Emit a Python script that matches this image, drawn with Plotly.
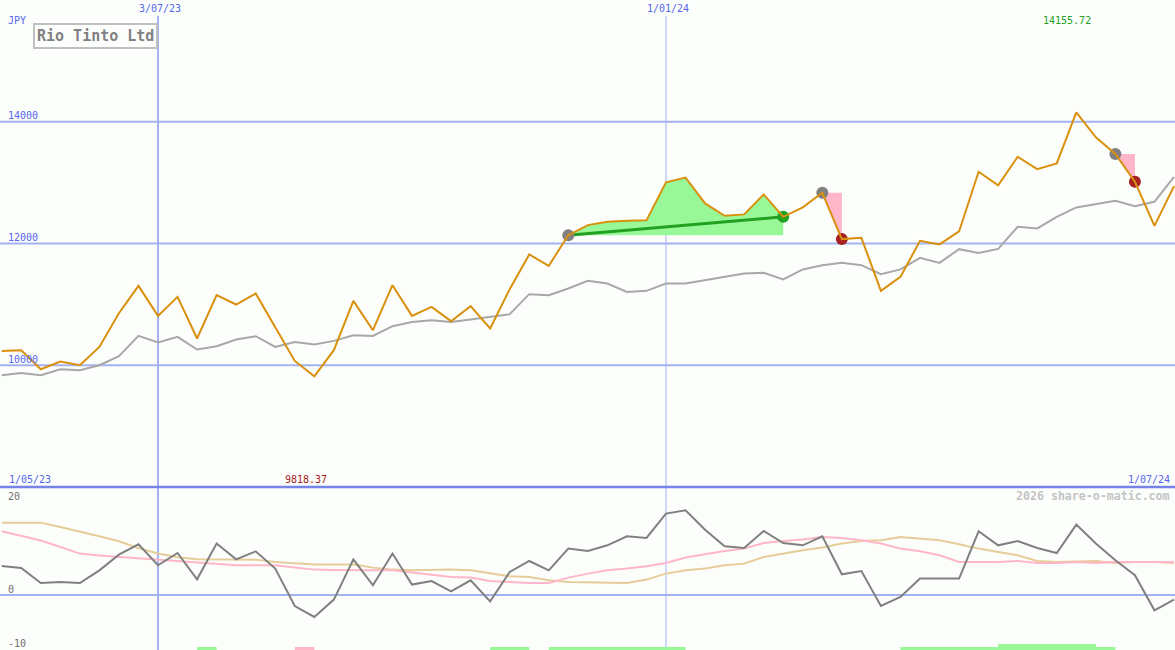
import plotly.graph_objects as go
import pandas as pd

# ---------------- data ----------------
dates = pd.date_range("2023-05-08", periods=61, freq="7D")

close = [10235, 10247, 9935, 10061, 10000, 10301, 10855, 11304, 10811, 11123,
         10439, 11151, 10998, 11179, 10625, 10071, 9818.37, 10247, 11057, 10576,
         11315, 10811, 10959, 10724, 10970, 10604, 11250, 11820, 11633, 12137,
         12302, 12356, 12373, 12380, 13004, 13083, 12659, 12455, 12478, 12807,
         12438, 12593, 12833, 12072, 12093, 11222, 11452, 12044, 11985, 12198,
         13178, 12954, 13425, 13222, 13316, 14155.72, 13744, 13470, 13014, 12290, 12943]

moving_avg = [9836, 9874, 9836, 9935, 9918, 10000, 10148, 10482, 10374, 10466,
              10258, 10313, 10423, 10477, 10301, 10383, 10341, 10400, 10494, 10482,
              10642, 10712, 10740, 10712, 10752, 10794, 10839, 11168, 11151, 11261,
              11386, 11343, 11205, 11222, 11343, 11343, 11398, 11463, 11508, 11518,
              11409, 11574, 11644, 11682, 11644, 11496, 11574, 11764, 11682, 11907,
              11846, 11912, 12274, 12248, 12438, 12593, 12647, 12701, 12614, 12685, 13096]

momentum = [5.37, 5.0, 2.22, 2.41, 2.22, 4.57, 7.48, 9.39, 5.5, 7.78,
            2.91, 9.52, 6.61, 8.09, 4.89, -2.04, -4.07, -0.85, 6.61, 1.8,
            7.67, 1.93, 2.59, 0.69, 2.72, -1.17, 4.26, 6.3, 4.57, 8.59,
            8.15, 9.2, 10.87, 10.56, 15.07, 15.69, 12.1, 9.02, 8.7, 11.85,
            9.63, 9.2, 10.87, 3.83, 4.44, -2.04, -0.37, 3.04, 3.04, 3.04,
            11.8, 9.2, 10.0, 8.7, 7.78, 13.04, 9.52, 6.43, 3.65, -2.83, -0.85]

signal_fast = [11.8, 10.96, 10.1, 8.9, 7.67, 7.3, 7.04, 6.8, 6.55, 6.2,
               5.93, 5.7, 5.5, 5.5, 5.5, 5.1, 4.7, 4.65, 4.57, 4.57,
               4.57, 4.15, 3.78, 3.33, 3.22, 2.59, 2.41, 2.22, 2.22, 3.22,
               3.96, 4.57, 4.89, 5.31, 5.93, 6.93, 7.54, 8.15, 8.59, 9.63,
               10.0, 10.26, 10.74, 10.56, 10.13, 9.52, 8.59, 8.09, 7.35, 6.1,
               6.1, 6.1, 6.3, 5.93, 5.93, 6.1, 5.93, 6.1, 6.1, 6.1, 6.1]

signal_slow = [13.4, 13.4, 13.4, 12.6, 11.8, 10.87, 9.94, 8.65, 7.67, 6.98,
               6.61, 6.55, 6.55, 6.55, 6.1, 5.87, 5.63, 5.63, 5.63, 5.07,
               4.7, 4.57, 4.7, 4.7, 4.57, 4.07, 3.46, 3.33, 2.72, 2.41,
               2.3, 2.22, 2.22, 2.85, 3.96, 4.57, 4.89, 5.5, 5.81, 7.04,
               7.67, 8.28, 8.78, 9.52, 10.0, 10.13, 10.74, 10.44, 10.13, 9.39,
               8.59, 7.96, 7.35, 6.3, 6.1, 6.2, 6.3, 5.93, 6.1, 6.1, 5.93]

# trade episodes (indices into dates)
gain_start, gain_end = 29, 40
loss_episodes = [(42, 43), (57, 58)]

# bottom signal strip: start index, end index, kind
signal_start = [10, 15, 25, 28, 46, 51]
signal_end = [11, 16, 27, 35, 57, 56]
signal_kind = ["buy", "sell", "buy", "buy", "buy", "strong"]

y_ticks_price = [10000, 12000, 14000]
y_ticks_osc = [20, 0, -10]
x_ticks = ["2023-07-03", "2024-01-01"]
x_tick_text = ["3/07/23", "1/01/24"]
x_tick_width = [2, 1]

title = "Rio Tinto Ltd"
currency = "JPY"
start_label = "1/05/23"
end_label = "1/07/24"
credit = "2026 share-o-matic.com"

# ---------------- styles ----------------
W, H = 1175, 650
BG = "#fcfefc"
BLUE_TXT = "#5566ee"
GRID = "#a4b2f2"
SEP = "#7584e6"
ORANGE = "#d9900c"
MA_GRAY = "#a8a8a8"
MOM_GRAY = "#808080"
PINK = "#ffb6c8"
TAN = "#e6cc98"
GREEN_FILL = "#98f898"
GREEN = "#22a022"
RED = "#a82020"
FONT = "DejaVu Sans Mono"

split = 163 / H  # bottom panel height fraction

fig = go.Figure()

# gain fill (green) between close and starting level
gx = list(dates[gain_start:gain_end + 1])
gy = close[gain_start:gain_end + 1]
base = close[gain_start]
fig.add_trace(go.Scatter(x=gx + gx[::-1], y=list(gy) + [base] * len(gx),
                         fill="toself", fillcolor=GREEN_FILL, line=dict(width=0),
                         mode="lines", hoverinfo="skip", showlegend=False,
                         xaxis="x", yaxis="y"))

# loss fills (pink)
for a, b in loss_episodes:
    fig.add_trace(go.Scatter(x=[dates[a], dates[b], dates[b], dates[a]],
                             y=[close[a], close[b], close[a], close[a]],
                             fill="toself", fillcolor=PINK, line=dict(width=0),
                             mode="lines", hoverinfo="skip", showlegend=False,
                             xaxis="x", yaxis="y"))

# moving average
fig.add_trace(go.Scatter(x=dates, y=moving_avg, mode="lines",
                         line=dict(color=MA_GRAY, width=2), showlegend=False,
                         xaxis="x", yaxis="y"))

# green trend line
fig.add_trace(go.Scatter(x=[dates[gain_start], dates[gain_end]],
                         y=[close[gain_start], close[gain_end]], mode="lines",
                         line=dict(color=GREEN, width=3), showlegend=False,
                         xaxis="x", yaxis="y"))

# dots
dot_x = [dates[gain_start], dates[gain_end]]
dot_y = [close[gain_start], close[gain_end]]
dot_c = ["#808080", GREEN]
for a, b in loss_episodes:
    dot_x += [dates[a], dates[b]]
    dot_y += [close[a], close[b]]
    dot_c += ["#808080", RED]
fig.add_trace(go.Scatter(x=dot_x, y=dot_y, mode="markers",
                         marker=dict(size=12, color=dot_c, line=dict(width=0)),
                         showlegend=False, xaxis="x", yaxis="y"))

# close price
fig.add_trace(go.Scatter(x=dates, y=close, mode="lines",
                         line=dict(color=ORANGE, width=2), showlegend=False,
                         xaxis="x", yaxis="y"))

# oscillator panel
fig.add_trace(go.Scatter(x=dates, y=signal_slow, mode="lines",
                         line=dict(color=TAN, width=2), showlegend=False,
                         xaxis="x2", yaxis="y2"))
fig.add_trace(go.Scatter(x=dates, y=signal_fast, mode="lines",
                         line=dict(color=PINK, width=2), showlegend=False,
                         xaxis="x2", yaxis="y2"))
fig.add_trace(go.Scatter(x=dates, y=momentum, mode="lines",
                         line=dict(color=MOM_GRAY, width=2), showlegend=False,
                         xaxis="x2", yaxis="y2"))

shapes = []
# horizontal grid lines
for v in y_ticks_price:
    shapes.append(dict(type="line", xref="paper", x0=0, x1=1, yref="y", y0=v, y1=v,
                       line=dict(color=GRID, width=2), layer="below"))
shapes.append(dict(type="line", xref="paper", x0=0, x1=1, yref="y2", y0=0, y1=0,
                   line=dict(color=GRID, width=2), layer="below"))
# separator between the panels
shapes.append(dict(type="line", xref="paper", x0=0, x1=1, yref="paper", y0=split,
                   y1=split, line=dict(color=SEP, width=2.5), layer="above"))
# vertical grid lines
for t, w in zip(x_ticks, x_tick_width):
    shapes.append(dict(type="line", xref="x", x0=t, x1=t, yref="paper", y0=0,
                       y1=1 - 16 / H, line=dict(color=GRID, width=w), layer="below"))
# signal strip
kind_color = {"buy": GREEN_FILL, "strong": GREEN_FILL, "sell": PINK}
kind_h = {"buy": 3, "strong": 6, "sell": 3}
for s, e, k in zip(signal_start, signal_end, signal_kind):
    shapes.append(dict(type="rect", xref="x2", x0=dates[s], x1=dates[e],
                       yref="y2 domain", y0=0, y1=kind_h[k] / 163,
                       fillcolor=kind_color[k], line=dict(width=0), layer="above"))

ann = []
small = dict(family=FONT, size=10, color=BLUE_TXT)
for v in y_ticks_price:
    ann.append(dict(text=f"{v}", xref="paper", x=6 / W, xanchor="left",
                    yref="y", y=v, yanchor="middle", yshift=6, showarrow=False,
                    font=small))
osc_shift = {20: -9, 0: 6, -10: 6}
for v in y_ticks_osc:
    ann.append(dict(text=f"{v}", xref="paper", x=6 / W, xanchor="left",
                    yref="y2", y=v, yanchor="middle", yshift=osc_shift[v],
                    showarrow=False, font=dict(family=FONT, size=10, color="#707070")))
for t, txt in zip(x_ticks, x_tick_text):
    ann.append(dict(text=txt, xref="x", x=t, xanchor="center", xshift=2,
                    yref="paper", y=1 - 8 / H, yanchor="middle", showarrow=False,
                    font=small))
ann.append(dict(text=currency, xref="paper", x=6 / W, xanchor="left",
                yref="paper", y=1 - 20 / H, yanchor="middle", showarrow=False,
                font=small))
ann.append(dict(text=start_label, xref="paper", x=7 / W, xanchor="left",
                yref="paper", y=1 - 479 / H, yanchor="middle", showarrow=False,
                font=small))
ann.append(dict(text=end_label, xref="paper", x=1172 / W, xanchor="right",
                yref="paper", y=1 - 479 / H, yanchor="middle", showarrow=False,
                font=small))
imax = close.index(max(close))
imin = close.index(min(close))
ann.append(dict(text=f"{close[imax]:.2f}", xref="x", x=dates[imax], xanchor="center",
                xshift=-9, yref="paper", y=1 - 21 / H, yanchor="middle",
                showarrow=False, font=dict(family=FONT, size=10, color=GREEN)))
ann.append(dict(text=f"{close[imin]:.2f}", xref="x", x=dates[imin], xanchor="center",
                xshift=-8, yref="paper", y=1 - 479 / H, yanchor="middle",
                showarrow=False, font=dict(family=FONT, size=10, color=RED)))
ann.append(dict(text=f"<b>{credit}</b>", xref="paper", x=1172 / W, xanchor="right",
                yref="paper", y=1 - 496 / H, yanchor="middle", showarrow=False,
                font=dict(family=FONT, size=11.6, color="#c4c4c4")))
ann.append(dict(text=f"<b>{title}</b>", xref="paper", x=95 / W, xanchor="center",
                yref="paper", y=1 - 36.5 / H, yanchor="middle", showarrow=False,
                font=dict(family=FONT, size=15, color="#808080"),
                bordercolor="#c0c0c0", borderwidth=2, borderpad=2, bgcolor=BG))

x_range = [pd.Timestamp("2023-05-07 09:22"), pd.Timestamp("2024-07-01 08:36")]
axis_off = dict(showgrid=False, zeroline=False, showline=False, showticklabels=False,
                ticks="")
fig.update_layout(
    width=W, height=H, margin=dict(l=0, r=0, t=0, b=0),
    paper_bgcolor=BG, plot_bgcolor="rgba(0,0,0,0)", showlegend=False,
    xaxis=dict(range=x_range, domain=[0, 1], anchor="y", **axis_off),
    xaxis2=dict(range=x_range, domain=[0, 1], anchor="y2", matches="x", **axis_off),
    yaxis=dict(range=[8000, 16000], domain=[split, 1], anchor="x", **axis_off),
    yaxis2=dict(range=[20 - 163 / 5.4, 20], domain=[0, split], anchor="x2", **axis_off),
    shapes=shapes, annotations=ann,
)

fig.write_html("out.html", config={"displayModeBar": False},
               post_script="document.body.style.margin='0';document.body.style.overflow='hidden';")
